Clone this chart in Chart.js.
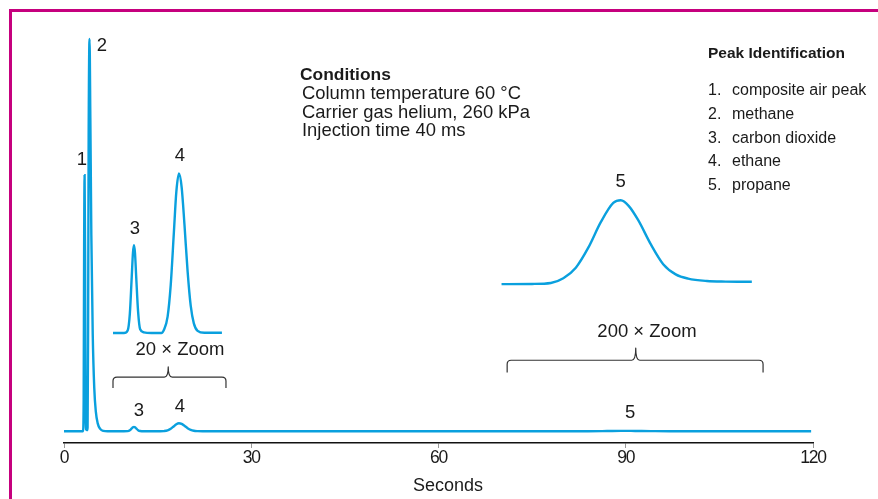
<!DOCTYPE html>
<html><head><meta charset="utf-8">
<script src="https://cdn.jsdelivr.net/npm/chart.js@4.4.0/dist/chart.umd.min.js"></script>
<style>
html,body{margin:0;padding:0;background:#fff;}
#wrap{position:relative;width:878px;height:499px;overflow:hidden;background:#fff;}
#frame{position:absolute;left:9px;top:9px;width:900px;height:520px;border-left:3px solid #c6007e;border-top:3px solid #c6007e;}
#c{position:absolute;left:0;top:0;}
.t{position:absolute;white-space:nowrap;color:#1a1a1a;font-family:'Liberation Sans',Arial,sans-serif;}
</style></head>
<body><div id="wrap"><div id="frame"></div><canvas id="c" width="878" height="499"></canvas></div>
<script>
// ---- data ----
const xTicks = [0, 30, 60, 90, 120];
const xTitle = 'Seconds';
const mainTime   = [0, 2.8, 3.05, 3.15, 3.22, 3.3, 3.38, 3.45, 3.55, 3.7, 3.78, 3.86, 3.95, 4.09, 4.22, 4.38, 4.6, 4.85, 5.1, 5.4, 5.8, 6.3, 7.0,
  9.6, 10.2, 10.55, 10.85, 11.05, 11.21, 11.37, 11.57, 11.87, 12.2, 12.8,
  15.4, 16.0, 16.6, 17.1, 17.6, 18.0, 18.42, 18.85, 19.3, 19.8, 20.3, 20.8, 21.4, 22.2,
  84, 87, 89.2, 91.5, 94, 97, 119.7];
const mainSignal = [0, 0, 0, 8, 45, 65.3, 45, 8, 0.5, 0.3, 1, 25, 75, 100, 80, 50, 25, 11, 5, 2, 0.6, 0.1, 0,
  0, 0.03, 0.25, 0.71, 1.02, 1.12, 1.02, 0.71, 0.27, 0.05, 0,
  0, 0.04, 0.21, 0.61, 1.28, 1.8, 2.03, 1.86, 1.38, 0.79, 0.35, 0.12, 0.03, 0,
  0, 0.05, 0.1, 0.07, 0.03, 0, 0];
const zoom20Time   = [7.85, 9.6, 10.2, 10.55, 10.85, 11.05, 11.21, 11.37, 11.57, 11.87, 12.2, 12.8, 14.0,
  15.6, 16.0, 16.6, 17.1, 17.6, 18.0, 18.42, 18.85, 19.3, 19.8, 20.3, 20.8, 21.4, 22.5, 25.3];
const zoom20Signal = [25.06, 25.06, 25.7, 30.0, 39.3, 45.5, 47.4, 45.5, 39.3, 30.5, 26.0, 25.2, 25.06,
  25.06, 25.8, 29.2, 37.3, 50.6, 61.1, 65.7, 62.2, 52.7, 40.8, 32.0, 27.5, 25.6, 25.1, 25.1];
const zoom200Time   = [70.1, 75, 78, 80, 82, 84, 86, 88, 89.2, 90.5, 92, 94, 96, 98, 100, 103, 106, 110.2];
const zoom200Signal = [37.5, 37.55, 37.8, 39.0, 41.7, 46.8, 53.3, 58.2, 58.9, 57.4, 53.8, 47.7, 42.6, 40.0, 38.9, 38.3, 38.15, 38.1];
const peakNumbers = ['1.', '2.', '3.', '4.', '5.'];
const peakNames = ['composite air peak', 'methane', 'carbon dioxide', 'ethane', 'propane'];
const legendTitle = 'Peak Identification';
const conditionsTitle = 'Conditions';
const conditions = ['Column temperature 60 °C', 'Carrier gas helium, 260 kPa', 'Injection time 40 ms'];

// ---- annotation layout (data coordinates) ----
const peakLabels = [
  {text:'1', t:2.88, v:69.1}, {text:'2', t:6.09, v:98.2},
  {text:'3', t:11.37, v:51.5}, {text:'4', t:18.58, v:70.1},
  {text:'20 × Zoom', t:18.58, v:20.7},
  {text:'3', t:12.0, v:5.1}, {text:'4', t:18.58, v:6.1}, {text:'5', t:90.7, v:4.6},
  {text:'5', t:89.2, v:63.5}, {text:'200 × Zoom', t:93.4, v:25.2}
];
const brackets = [
  {t0:7.85, t1:25.95, tc:16.7, vEnd:11.0, vLine:13.8, vTop:16.4},
  {t0:71.0, t1:112.0, tc:91.6, vEnd:15.0, vLine:18.1, vTop:21.2}
];

const BLUE = '#0aa0de';
const pts = (ts, vs) => ts.map((t, i) => ({x: t, y: vs[i]}));

const tightTicks = {
  id: 'tightTicks',
  beforeDraw(chart) { chart.ctx.letterSpacing = '-1.3px'; },
  beforeDatasetsDraw(chart) { chart.ctx.letterSpacing = '0px'; }
};

const annot = {
  id: 'annot',
  afterDatasetsDraw(chart) {
    const ctx = chart.ctx, xs = chart.scales.x, ys = chart.scales.y;
    ctx.save();
    ctx.letterSpacing = '0px';
    ctx.strokeStyle = '#333'; ctx.lineWidth = 1.2; ctx.lineJoin = 'round';
    brackets.forEach(b => {
      const xL = xs.getPixelForValue(b.t0), xR = xs.getPixelForValue(b.t1), xC = xs.getPixelForValue(b.tc);
      const yE = ys.getPixelForValue(b.vEnd), yH = ys.getPixelForValue(b.vLine), yT = ys.getPixelForValue(b.vTop);
      const r = 4;
      ctx.beginPath();
      ctx.moveTo(xL, yE); ctx.lineTo(xL, yH + r);
      ctx.quadraticCurveTo(xL, yH, xL + r, yH);
      ctx.lineTo(xC - r, yH);
      ctx.quadraticCurveTo(xC, yH, xC, yT);
      ctx.quadraticCurveTo(xC, yH, xC + r, yH);
      ctx.lineTo(xR - r, yH);
      ctx.quadraticCurveTo(xR, yH, xR, yH + r);
      ctx.lineTo(xR, yE);
      ctx.stroke();
    });
    ctx.fillStyle = '#1a1a1a';
    ctx.font = '18.5px "Liberation Sans", sans-serif';
    ctx.textAlign = 'center'; ctx.textBaseline = 'middle';
    peakLabels.forEach(l => ctx.fillText(l.text, xs.getPixelForValue(l.t), ys.getPixelForValue(l.v)));
    ctx.restore();
  }
};

new Chart(document.getElementById('c'), {
  type: 'line',
  data: { datasets: [
    {data: pts(mainTime, mainSignal)},
    {data: pts(zoom20Time, zoom20Signal)},
    {data: pts(zoom200Time, zoom200Signal)}
  ].map(d => Object.assign(d, {borderColor: BLUE, borderWidth: 2.4, pointRadius: 0, fill: false,
      cubicInterpolationMode: 'monotone', clip: false})) },
  options: {
    responsive: false, animation: false, events: [],
    layout: {padding: {left: 64, right: 65, top: 39, bottom: 0}},
    plugins: {legend: {display: false}, tooltip: {enabled: false}},
    scales: {
      x: {type: 'linear', min: 0, max: 120,
        afterBuildTicks: s => { s.ticks = xTicks.map(v => ({value: v})); },
        afterFit: s => { s.height = 56; },
        ticks: {autoSkip: false, maxRotation: 0, padding: 0, color: '#1a1a1a',
          font: {family: '"Liberation Sans", sans-serif', size: 17.5}},
        grid: {display: true, drawOnChartArea: false, drawTicks: true, tickLength: 5, color: '#999', lineWidth: 1},
        border: {display: true, color: '#111', width: 1.5},
        title: {display: false, text: xTitle}
      },
      y: {type: 'linear', min: -3, max: 100, display: false}
    }
  },
  plugins: [tightTicks, annot]
});

// ---- static text blocks ----
const wrap = document.getElementById('wrap');
function addText(str, left, baseline, size, bold) {
  const d = document.createElement('div');
  d.className = 't';
  d.textContent = str;
  d.style.left = left + 'px';
  d.style.fontSize = size + 'px';
  d.style.lineHeight = size + 'px';
  d.style.fontWeight = bold ? 'bold' : 'normal';
  d.style.top = (baseline - 0.8465 * size) + 'px';
  wrap.appendChild(d);
}
addText(xTitle, 413, 491, 18, false);
addText(conditionsTitle, 300, 81, 17.4, true);
conditions.forEach((s, i) => addText(s, 302, 99.5 + i * 18.7, 18.4, false));
addText(legendTitle, 708, 58.5, 15.5, true);
peakNames.forEach((s, i) => {
  addText(peakNumbers[i], 708, 96 + i * 23.6, 16, false);
  addText(s, 732, 96 + i * 23.6, 16, false);
});
</script>
</body></html>
